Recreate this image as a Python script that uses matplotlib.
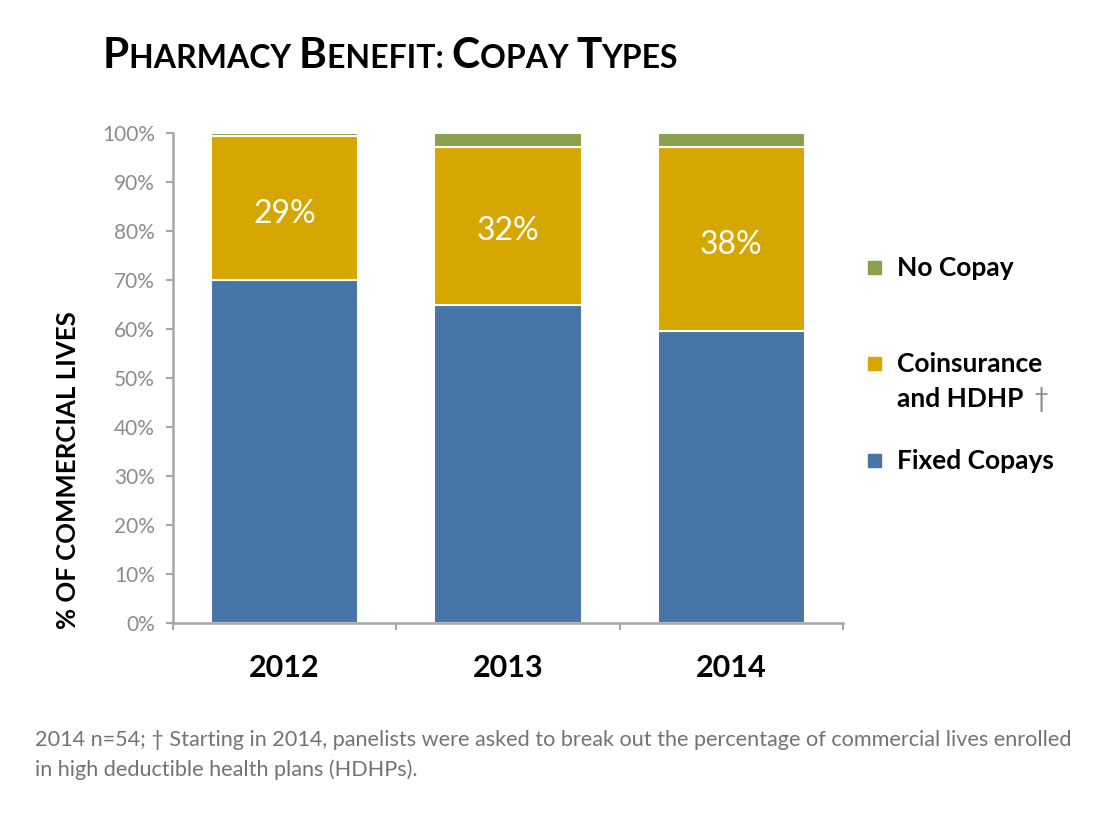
import matplotlib
matplotlib.use("Agg")
import matplotlib.pyplot as plt
from matplotlib.patches import Rectangle
import numpy as np

# data
years = ["2012", "2013", "2014"]
series_names = ["Fixed Copays", "Coinsurance\nand HDHP", "No Copay"]
fixed_copays = [70.1, 65.0, 59.6]
coinsurance = [29.2, 32.2, 37.6]
no_copay = [0.7, 2.8, 2.8]
coins_labels = ["29%", "32%", "38%"]
yticks = [0, 10, 20, 30, 40, 50, 60, 70, 80, 90, 100]

colors = ["#4674A4", "#D6A700", "#8BA04D"]
GRAY = "#8c8c8c"
FONT = "Lato"
W, H = 1116, 819

plt.rcParams["font.family"] = [FONT, "DejaVu Sans"]

fig = plt.figure(figsize=(W / 100, H / 100), dpi=100)
ax = fig.add_axes([173 / W, 1 - 623 / H, 670 / W, 490 / H])

x = np.arange(len(years))
bottom = np.zeros(len(years))
for vals, col in zip([fixed_copays, coinsurance, no_copay], colors):
    ax.bar(x, vals, width=0.66, bottom=bottom, color=col,
           edgecolor="white", linewidth=1.5)
    bottom += np.array(vals)

# value labels on the coinsurance segment
for xi, f, c, lab in zip(x, fixed_copays, coinsurance, coins_labels):
    ax.text(xi, f + c / 2 - 1.2, lab, ha="center", va="center",
            color="white", fontsize=23)

ax.set_xlim(-0.5, 2.5)
ax.set_ylim(0, 100)
ax.set_yticks(yticks)
ax.set_yticklabels([f"{v}%" for v in yticks], color=GRAY, fontsize=15)
ax.set_xticks(x)
ax.set_xticklabels(years, fontsize=22, fontweight="bold")
ax.set_xticks([-0.5, 0.5, 1.5, 2.5], minor=True)
ax.tick_params(axis="x", which="major", length=0, pad=22)
ax.tick_params(axis="x", which="minor", length=5, width=1.5, color="#a6a6a6",
               direction="out")
ax.tick_params(axis="y", length=5, width=1.5, color="#a6a6a6", pad=8)
for s in ["top", "right"]:
    ax.spines[s].set_visible(False)
for s in ["left", "bottom"]:
    ax.spines[s].set_color("#a6a6a6")
    ax.spines[s].set_linewidth(1.8)

fig.text(68 / W, 1 - 470 / H, "% OF COMMERCIAL LIVES", fontsize=18.5,
         fontweight="bold", rotation=90, ha="center", va="center")

# legend drawn by hand on the right
leg_y = [461, 364, 268]
LEG_FS = 19
r = fig.canvas.get_renderer()
for name, col, yy in zip(series_names, colors, leg_y):
    fig.patches.append(Rectangle((868 / W, 1 - (yy + 6) / H), 13 / W, 13 / H,
                                 transform=fig.transFigure, color=col))
    for j, line in enumerate(name.split("\n")):
        t = fig.text(897 / W, 1 - (yy + 35 * j) / H, line, fontsize=LEG_FS,
                     fontweight="bold", va="center")
        if j == 1:
            # dagger after "and HDHP"
            bb = t.get_window_extent(r)
            fig.text((bb.x1 + 10) / W, 1 - (yy + 35 * j) / H, "\u2020",
                     fontsize=LEG_FS, color=GRAY, va="center")

# title in small caps
pieces = [("P", 30.5), ("HARMACY ", 23), ("B", 30.5), ("ENEFIT: ", 23),
          ("C", 30.5), ("OPAY ", 23), ("T", 30.5), ("YPES", 23)]
xpos = 103
for txt, sz in pieces:
    tt = fig.text(xpos / W, 1 - 68 / H, txt, fontsize=sz,
                  fontweight="bold", va="baseline")
    xpos += tt.get_window_extent(r).width

foot = ["2014 n=54; \u2020 Starting in 2014, panelists were asked to break out "
        "the percentage of commercial lives enrolled",
        "in high deductible health plans (HDHPs)."]
for i, line in enumerate(foot):
    fig.text(35 / W, 1 - (740 + 30 * i) / H, line, fontsize=15.6,
             color="#737373", va="center")

fig.savefig("out.png", dpi=100)
